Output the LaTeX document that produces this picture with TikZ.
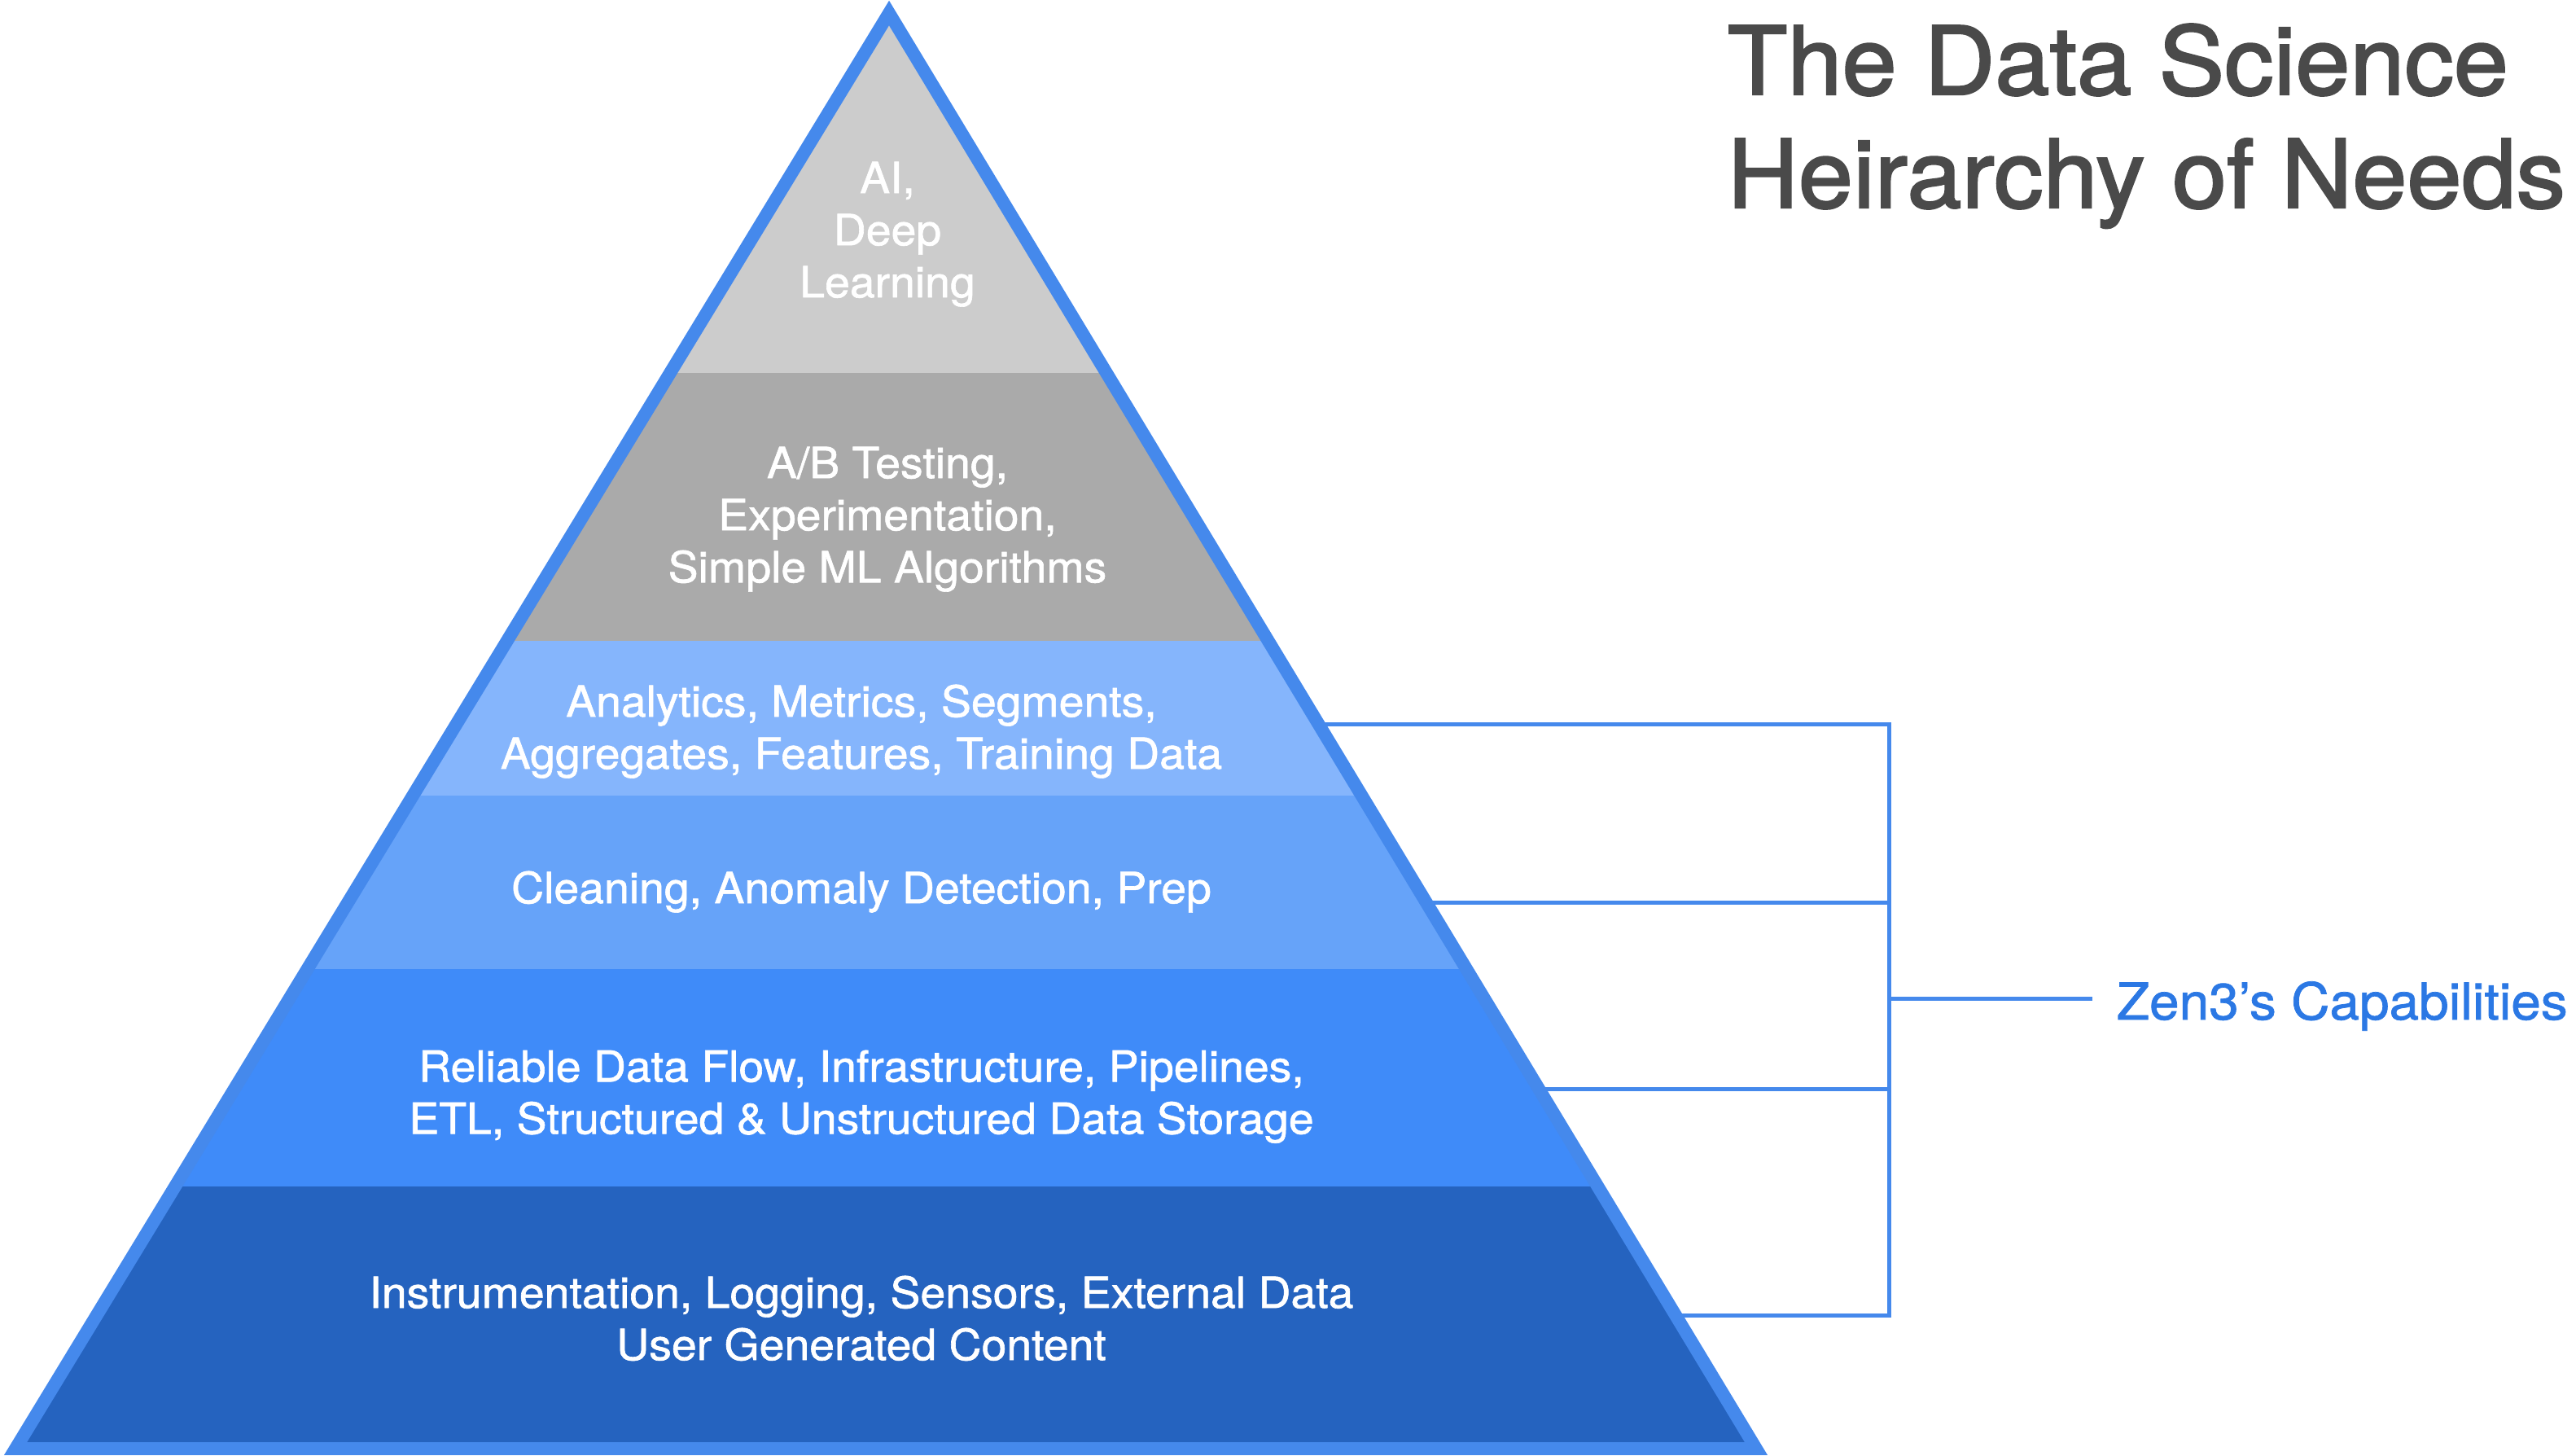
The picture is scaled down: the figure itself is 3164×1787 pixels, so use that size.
\documentclass[tikz,border=0pt]{standalone}
\usepackage{fontspec}
\setmainfont[FakeStretch=1.05,FakeBold=1.2]{TeX Gyre Heros}
\newfontfamily\headfont[FakeStretch=1.04,FakeBold=2]{TeX Gyre Heros}
\definecolor{tierA}{HTML}{CCCCCC}
\definecolor{tierB}{HTML}{AAAAAA}
\definecolor{tierC}{HTML}{85B5FC}
\definecolor{tierD}{HTML}{66A3F9}
\definecolor{tierE}{HTML}{3F8BF9}
\definecolor{tierF}{HTML}{2563BF}
\definecolor{rim}{HTML}{4589EC}
\definecolor{capblue}{HTML}{2B78E4}
\definecolor{titlegrey}{HTML}{4A4A4A}

\begin{document}
\begin{tikzpicture}[x=0.01cm,y=-0.01cm,
  tier/.style={anchor=north,text=white,align=center,inner sep=0pt,font=\fontsize{15}{18.2}\selectfont},
  brace/.style={draw=rim,line width=1.42pt},
  heading/.style={anchor=base west,text=titlegrey,inner sep=0pt,font=\headfont\fontsize{33}{40}\selectfont}]
\useasboundingbox (0,0) rectangle (3164,1787);
\coordinate (apex) at (1092,16);
\coordinate (bl) at (19,1779);
\coordinate (br) at (2157,1779);
\begin{scope}
\clip (apex) -- (bl) -- (br) -- cycle;
\fill[tierA] (0,0) rectangle (3164,458);
\fill[tierB] (0,458) rectangle (3164,787);
\fill[tierC] (0,787) rectangle (3164,977);
\fill[tierD] (0,977) rectangle (3164,1190);
\fill[tierE] (0,1190) rectangle (3164,1457);
\fill[tierF] (0,1457) rectangle (3164,1787);
\end{scope}
\node[tier] (ai) at (1090,198) {AI,\\Deep\\Learning};
\node[tier] (ab) at (1090,548) {A/B Testing,\\Experimentation,\\Simple ML Algorithms};
\node[tier] (analytics) at (1058,840) {Analytics, Metrics, Segments,\\Aggregates, Features, Training Data};
\node[tier] (cleaning) at (1058,1069) {Cleaning, Anomaly Detection, Prep};
\node[tier] (flow) at (1058,1289) {Reliable Data Flow, Infrastructure, Pipelines,\\ETL, Structured \& Unstructured Data Storage};
\node[tier] (collect) at (1058,1566) {Instrumentation, Logging, Sensors, External Data\\User Generated Content};
% bracket on the right
\path (apex) -- (br) coordinate[pos=0.4952] (e1) coordinate[pos=0.6194] (e2)
  coordinate[pos=0.7493] (e3) coordinate[pos=0.9070] (e4);
\coordinate (spine) at (2320,889);
\coordinate (mid) at (2320,1226);
\draw[brace] (e1) -- (e1 -| spine) -- (e4 -| spine) -- (e4);
\draw[brace] (e2) -- (e2 -| spine);
\draw[brace] (e3) -- (e3 -| spine);
\node[anchor=base west,text=capblue,inner sep=0pt,outer sep=8.5pt,font=\fontsize{17.8}{20}\selectfont] (caps) at (2570,1252) {Zen3’s Capabilities};
\draw[brace] (mid) -- (mid -| caps.west);
\draw[rim,line width=4.5pt] (apex) -- (bl) -- (br) -- cycle;
\node[heading] (title) at (2121,116) {The Data Science};
\node[heading] (subtitle) at (2121,255) {Heirarchy of Needs};
\end{tikzpicture}
\end{document}
